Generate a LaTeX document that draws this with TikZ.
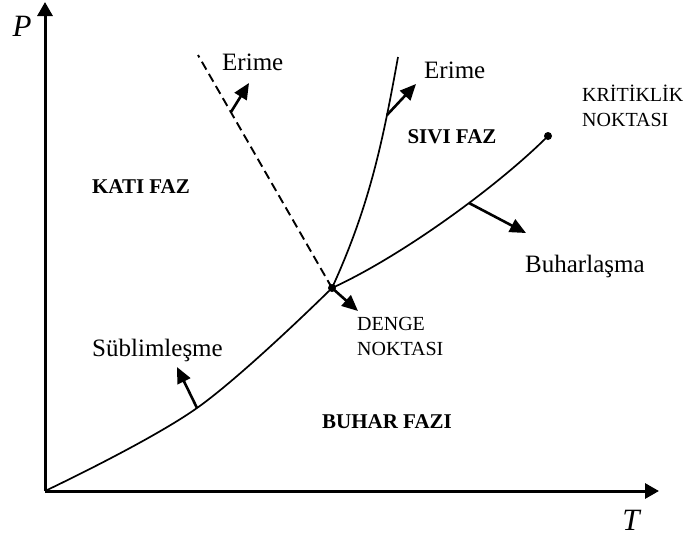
\documentclass[tikz,border=0pt]{standalone}
\usepackage{fontspec}
\setmainfont{Liberation Serif}
\usetikzlibrary{arrows.meta}
\begin{document}
\begin{tikzpicture}[x=1pt,y=-1pt,
  axis/.style={line width=3pt,-{Triangle[length=14pt,width=15pt]}},
  curve/.style={line width=1.7pt},
  dashcurve/.style={line width=1.9pt,dash pattern=on 9pt off 5pt},
  ptr/.style={line width=2.6pt,-{Triangle[length=16pt,width=14pt]}},
  lbl/.style={font=\fontsize{25}{28}\selectfont,inner sep=0},
  phase/.style={font=\fontsize{21}{24}\selectfont\bfseries,inner sep=0},
  small/.style={font=\fontsize{20}{25}\selectfont,inner sep=0,align=left},
  axlbl/.style={font=\fontsize{31}{34}\selectfont\itshape,inner sep=0},
  dot/.style={circle,fill,inner sep=0,minimum size=8pt}]
\useasboundingbox (0,0) rectangle (691,539);
% axes
\coordinate (O) at (45,491);
\coordinate (Ytip) at (45,2);
\coordinate (Xtip) at (659,491);
\draw[axis] (O) -- (Ytip);
\draw[axis] (O) -- (Xtip);
\node[axlbl] (P) at (22,26) {P};
\node[axlbl] (T) at (631,520) {T};
% special points
\node[dot] (D) at (332,288) {};
\node[dot] (K) at (548,136) {};
% curve points
\coordinate (Etop) at (198,55);
\coordinate (Mtop) at (398,57);
\coordinate (sa) at (197,408);
\coordinate (ba) at (469,203);
\coordinate (e2a) at (387,115);
% curves
\draw[curve] plot[smooth,tension=0.6] coordinates {(O) (sa) (D.center)};
\draw[curve] (D.center) .. controls (402,256) and (498,186) .. (K.center);
\draw[curve] (D.center) .. controls (370,205) and (383,140) .. (Mtop);
\draw[dashcurve] (D.center) -- (Etop);
% pointer arrows
\coordinate (e1a) at (231,112); \coordinate (e1b) at (249,83);
\coordinate (e2b) at (416,84);
\coordinate (bb) at (526,233);
\coordinate (sb) at (177,367);
\coordinate (db) at (358,311);
\draw[ptr] (e1a) -- (e1b);
\draw[ptr] (e2a) -- (e2b);
\draw[ptr] (ba) -- (bb);
\draw[ptr] (sa) -- (sb);
\draw[ptr] (D.center) -- (db);
% labels
\node[lbl,anchor=base west] (erime1) at (222,70) {Erime};
\node[lbl,anchor=base west] (erime2) at (424,78) {Erime};
\node[lbl,anchor=base west] (buhar) at (525,272) {Buharlaşma};
\node[lbl,anchor=base west] (subl) at (92,356) {Süblimleşme};
\node[phase] (kati) at (141,187) {KATI FAZ};
\node[phase] (sivi) at (452,137) {SIVI FAZ};
\node[phase] (buharfaz) at (387,422) {BUHAR FAZI};
\node[small,anchor=north west] (krit) at (582,85) {KRİTİKLİK\\NOKTASI};
\node[small,anchor=north west] (denge) at (357,317) {DENGE\\NOKTASI};
\end{tikzpicture}
\end{document}
